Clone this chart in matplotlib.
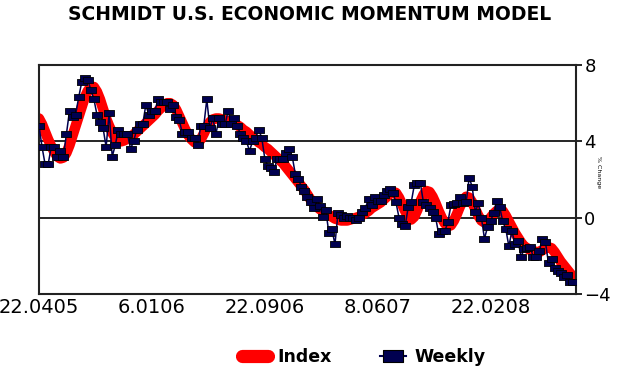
import matplotlib
matplotlib.use('Agg')
import matplotlib.pyplot as plt
from matplotlib.lines import Line2D
import numpy as np

# tick labels (dd.mmyy), one every 37 weeks
tick_weeks = [0, 37, 74, 111, 148]
tick_labels = ['22.0405', '6.0106', '22.0906', '8.0607', '22.0208']

# smoothed index, % change, one value per week
index_vals = [
    5.2, 4.9, 4.5, 4.1, 3.75, 3.45, 3.2, 3.1, 3.15, 3.4,
    3.8, 4.3, 4.8, 5.3, 5.8, 6.3, 6.65, 6.85, 6.85, 6.6,
    6.2, 5.7, 5.2, 4.8, 4.45, 4.2, 4.05, 4.0, 4.05, 4.15,
    4.25, 4.35, 4.5, 4.65, 4.8, 4.95, 5.1, 5.25, 5.4, 5.6,
    5.75, 5.9, 6.0, 6.0, 5.9, 5.65, 5.3, 4.95, 4.6, 4.3,
    4.1, 3.95, 3.9, 4.1, 4.4, 4.75, 5.0, 5.15, 5.2, 5.2,
    5.15, 5.1, 5.05, 5.0, 4.95, 4.85, 4.75, 4.6, 4.5, 4.35,
    4.2, 4.1, 3.95, 3.85, 3.7, 3.6, 3.45, 3.3, 3.15, 3.0,
    2.85, 2.65, 2.45, 2.25, 2.05, 1.85, 1.65, 1.45, 1.2, 0.95,
    0.75, 0.6, 0.45, 0.35, 0.25, 0.15, 0.05, -0.05, -0.1, -0.15,
    -0.15, -0.15, -0.1, -0.05, 0.0, 0.05, 0.15, 0.25, 0.35, 0.5,
    0.6, 0.7, 0.8, 0.95, 1.1, 1.25, 1.35, 1.3, 1.05, 0.7,
    0.35, 0.05, -0.1, 0.05, 0.4, 0.85, 1.2, 1.4, 1.35, 1.1,
    0.75, 0.35, 0.0, -0.3, -0.45, -0.4, -0.15, 0.2, 0.6, 0.9,
    1.1, 1.05, 0.8, 0.45, 0.1, -0.15, -0.25, -0.2, 0.0, 0.2,
    0.35, 0.4, 0.35, 0.1, -0.2, -0.5, -0.8, -1.05, -1.3, -1.5,
    -1.6, -1.7, -1.75, -1.8, -1.8, -1.7, -1.6, -1.55, -1.6, -1.8,
    -2.05, -2.3, -2.5, -2.7, -2.9, -3.1, -3.25,
]

# weekly reading, % change
weekly_vals = [
    4.8, 3.7, 2.8, 2.8, 3.7, 3.7, 3.2, 3.5, 3.2, 4.4,
    5.6, 5.3, 5.4, 6.3, 7.1, 7.3, 7.2, 6.7, 6.2, 5.4,
    5.0, 4.7, 3.7, 5.5, 3.2, 3.8, 4.6, 4.4, 4.4, 4.4,
    3.6, 4.0, 4.6, 4.9, 4.9, 5.9, 5.4, 5.6, 5.6, 6.2,
    6.05, 6.05, 6.05, 5.7, 5.9, 5.3, 5.1, 4.4, 4.5, 4.5,
    4.2, 4.15, 3.8, 4.8, 4.8, 6.2, 4.7, 5.2, 4.4, 5.2,
    4.9, 4.9, 5.6, 4.9, 5.2, 4.8, 4.4, 4.2, 4.0, 3.5,
    4.0, 4.2, 4.6, 4.2, 3.1, 2.7, 2.6, 2.4, 3.1, 3.1,
    3.1, 3.4, 3.6, 3.2, 2.3, 2.05, 1.6, 1.4, 1.1, 0.8,
    0.5, 1.0, 0.6, 0.05, 0.4, -0.8, -0.6, -1.4, 0.25, 0.15,
    0.0, 0.1, 0.0, 0.0, -0.1, 0.0, 0.3, 0.5, 1.0, 0.65,
    1.1, 0.9, 0.9, 1.2, 1.4, 1.5, 1.3, 0.8, 0.0, -0.35,
    -0.45, 0.55, 0.8, 1.7, 1.8, 1.8, 0.8, 0.65, 0.5, 0.3,
    0.0, -0.85, -0.7, -0.7, -0.25, 0.65, 0.7, 0.75, 1.1, 0.75,
    0.8, 2.1, 1.6, 0.3, 0.75, 0.0, -1.1, -0.5, -0.2, 0.25,
    0.9, 0.55, -0.2, -0.6, -1.5, -0.7, -1.4, -1.2, -2.05, -1.65,
    -1.6, -1.55, -2.05, -2.05, -1.75, -1.1, -1.3, -2.4, -2.15, -2.65,
    -2.8, -2.9, -3.1, -3.0, -3.35, -3.35,
]

RED = '#ff0000'
NAVY = '#000050'
box = [(-1.5, -1), (1.5, -1), (1.5, 1), (-1.5, 1), (-1.5, -1)]

fig = plt.figure(figsize=(6.2, 3.8), dpi=100)
ax = fig.add_axes([0.0629, 0.2263, 0.8661, 0.6026])

ax.plot(np.arange(len(index_vals)), index_vals, color=RED, lw=7.5,
        solid_capstyle='round', solid_joinstyle='round', zorder=2)
ax.plot(np.arange(len(weekly_vals)), weekly_vals, color=NAVY, lw=1.1,
        marker=box, markersize=6.5, markerfacecolor=NAVY,
        markeredgecolor='black', markeredgewidth=0.6, zorder=3)

ax.set_xlim(0, 176)
ax.set_ylim(-4, 8)
ax.set_yticks([-4, 0, 4, 8])
ax.yaxis.tick_right()
ax.tick_params(axis='y', direction='out', length=4, width=1.2, pad=2,
               labelsize=13)
ax.set_xticks(tick_weeks)
ax.set_xticklabels(tick_labels, fontsize=14)
ax.tick_params(axis='x', length=0, pad=3)
ax.grid(axis='y', color='black', lw=1.2)
ax.set_axisbelow(True)
for s in ax.spines.values():
    s.set_linewidth(1.5)
    s.set_color('#222222')

fig.text(0.5, 0.963, 'SCHMIDT U.S. ECONOMIC MOMENTUM MODEL', ha='center',
         va='center', fontsize=13.5, fontweight='bold')
fig.text(598 / 620, 1 - 172 / 380, '% Change', rotation=270, ha='center',
         va='center', fontsize=4.5)

# legend with proxy handles
h_index = Line2D([], [], color=RED, lw=9.5, solid_capstyle='round')
h_weekly = Line2D([], [], color=NAVY, lw=1.5, marker=box, markersize=14,
                  markerfacecolor=NAVY, markeredgecolor='black',
                  markeredgewidth=0.8)
fig.legend([h_index, h_weekly], ['Index', 'Weekly'], loc='center',
           bbox_to_anchor=(364 / 620, 1 - 357 / 380), ncol=2, frameon=False,
           prop={'size': 12.5, 'weight': 'bold'}, handlelength=1.5,
           handletextpad=0.5, columnspacing=2.8)

fig.savefig('out.png', dpi=100)
